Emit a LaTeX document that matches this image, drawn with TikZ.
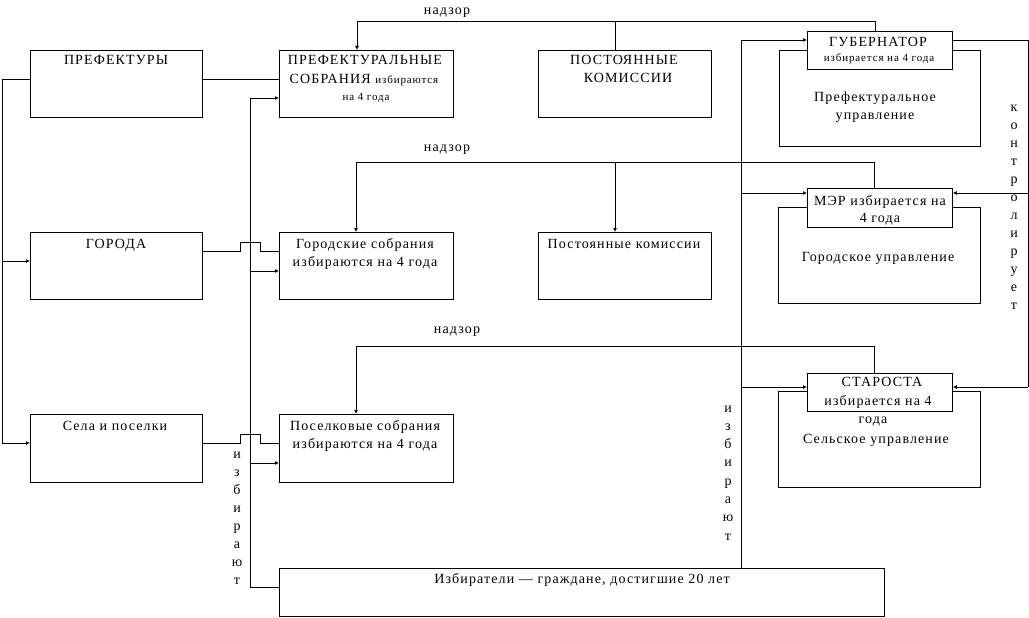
\documentclass[tikz,border=0pt]{standalone}
\usepackage{fontspec}
\setmainfont{Liberation Serif}[LetterSpace=8]
\usetikzlibrary{arrows.meta}
\newcommand\mybx[5]{\node[box, minimum width={#4-#2}, minimum height={#5-#3}, anchor=north west] (#1) at (#2,#3) {};}
\begin{document}
\begin{tikzpicture}[x=1pt,y=-1pt,
  box/.style={draw, line width=0.8pt, inner sep=0pt, fill=white},
  ln/.style={draw, line width=0.8pt},
  arr/.style={ln, -{Latex[length=4pt,width=4pt]}},
  txt/.style={anchor=base, inner sep=0pt, font=\fontsize{14}{18}\selectfont},
  stxt/.style={anchor=base, inner sep=0pt, font=\fontsize{11}{13}\selectfont}]
\useasboundingbox (0,0) rectangle (1029,618);
% boxes
\mybx{pref}{30}{50}{202}{117}
\mybx{psob}{279}{50}{453}{117}
\mybx{pkom}{538}{50}{711}{117}
\mybx{prefupr}{779}{50}{980}{146}
\mybx{gub}{807}{31}{952}{69}
\mybx{gor}{30}{232}{202}{299}
\mybx{gsob}{279}{232}{453}{299}
\mybx{gkom}{538}{232}{711}{299}
\mybx{gorupr}{778}{207}{980}{303}
\mybx{mer}{807}{188}{952}{227}
\mybx{sela}{30}{414}{202}{482}
\mybx{ssob}{279}{414}{453}{482}
\mybx{selupr}{778}{391}{980}{487}
\mybx{star}{807}{373}{952}{411}
\mybx{izb}{279}{568}{884}{616}
% texts
\node[txt] (t1) at (116,65) {ПРЕФЕКТУРЫ};
\node[txt] (t2) at (365,65) {ПРЕФЕКТУРАЛЬНЫЕ};
\node[txt] (t3) at (364,84) {СОБРАНИЯ {\fontsize{11}{13}\selectfont избираются}};
\node[stxt] (t4) at (366,100) {на 4 года};
\node[txt] (t5) at (624,65) {ПОСТОЯННЫЕ};
\node[txt] (t6) at (628,83) {КОМИССИИ};
\node[txt] (t7) at (878,47) {ГУБЕРНАТОР};
\node[stxt] (t8) at (879,62) {избирается на 4 года};
\node[txt] (t9) at (875,102) {Префектуральное};
\node[txt] (t10) at (875,119) {управление};
\node[txt] (t11) at (116,248) {ГОРОДА};
\node[txt] (t12) at (365,248) {Городские собрания};
\node[txt] (t13) at (365,266) {избираются на 4 года};
\node[txt] (t14) at (624,248) {Постоянные комиссии};
\node[txt] (t15) at (880,205) {МЭР избирается на};
\node[txt] (t16) at (880,222) {4 года};
\node[txt] (t17) at (878,261) {Городское управление};
\node[txt] (t18) at (115,430) {Села и поселки};
\node[txt] (t19) at (365,430) {Поселковые собрания};
\node[txt] (t20) at (365,448) {избираются на 4 года};
\node[txt] (t21) at (882,386) {СТАРОСТА};
\node[txt] (t22) at (878,405) {избирается на 4};
\node[txt] (t23) at (873,423) {года};
\node[txt] (t24) at (876,443) {Сельское управление};
\node[txt] (t25) at (582,583) {Избиратели — граждане, достигшие 20 лет};
\node[txt] (n1) at (447,15) {надзор};
\node[txt] (n2) at (447,151) {надзор};
\node[txt] (n3) at (457,333) {надзор};
\foreach \ch [count=\i] in {к,о,н,т,р,о,л,и,р,у,е,т}
  \node[txt] (k\i) at (1014,{111+18*(\i-1)}) {\ch};
\foreach \ch [count=\i] in {и,з,б,и,р,а,ю,т}
  \node[txt] (ia\i) at (237,{458+18*(\i-1)}) {\ch};
\foreach \ch [count=\i] in {и,з,б,и,р,а,ю,т}
  \node[txt] (ib\i) at (728,{412+18.3*(\i-1)}) {\ch};
% coordinates
\coordinate (L0) at (2,79); \coordinate (L1) at (2,261); \coordinate (L2) at (2,443);
\coordinate (A0) at (250,98); \coordinate (A1) at (250,271); \coordinate (A2) at (250,463); \coordinate (A3) at (250,587);
\coordinate (B1) at (240,251); \coordinate (B2) at (260,251);
\coordinate (C1) at (240,443); \coordinate (C2) at (260,443);
\coordinate (N1a) at (875,21); \coordinate (N1b) at (357,21); \coordinate (N1c) at (615,21);
\coordinate (N2a) at (874,162); \coordinate (N2b) at (356,162); \coordinate (N2c) at (615,162);
\coordinate (N3a) at (874,346); \coordinate (N3b) at (356,346);
\coordinate (D0) at (741,40); \coordinate (D1) at (741,193); \coordinate (D2) at (741,387);
\coordinate (E0) at (1028,40); \coordinate (E1) at (1028,193); \coordinate (E2) at (1028,387);
% left trunk
\draw[ln] (pref.west |- L0) -- (L0) -- (L2);
\draw[arr] (L1) -- (gor.west |- L1);
\draw[arr] (L2) -- (sela.west |- L2);
\draw[ln] (pref.east |- L0) -- (psob.west |- L0);
% trunk at 250
\draw[ln] (A0) -- (A3) -- (izb.west |- A3);
\draw[arr] (A0) -- (psob.west |- A0);
\draw[arr] (A1) -- (gsob.west |- A1);
\draw[arr] (A2) -- (ssob.west |- A2);
% bridges
\draw[ln] (gor.east |- B1) -- (B1) -- ++(0,-9) -| (B2) -- (gsob.west |- B2);
\draw[ln] (sela.east |- C1) -- (C1) -- ++(0,-9) -| (C2) -- (ssob.west |- C2);
% nadzor
\draw[ln] (gub.north -| N1a) -- (N1a) -- (N1b);
\draw[arr] (N1b) -- (psob.north -| N1b);
\draw[ln] (N1c) -- (pkom.north -| N1c);
\draw[ln] (mer.north -| N2a) -- (N2a) -- (N2b);
\draw[arr] (N2b) -- (gsob.north -| N2b);
\draw[arr] (N2c) -- (gkom.north -| N2c);
\draw[ln] (star.north -| N3a) -- (N3a) -- (N3b);
\draw[arr] (N3b) -- (ssob.north -| N3b);
% trunk at 741
\draw[ln] (izb.north -| D0) -- (D0);
\draw[arr] (D0) -- (gub.west |- D0);
\draw[arr] (D1) -- (mer.west |- D1);
\draw[arr] (D2) -- (star.west |- D2);
% right trunk
\draw[ln] (gub.east |- E0) -- (E0) -- (E2);
\draw[arr] (E1) -- (mer.east |- E1);
\draw[arr] (E2) -- (star.east |- E2);
\end{tikzpicture}
\end{document}
